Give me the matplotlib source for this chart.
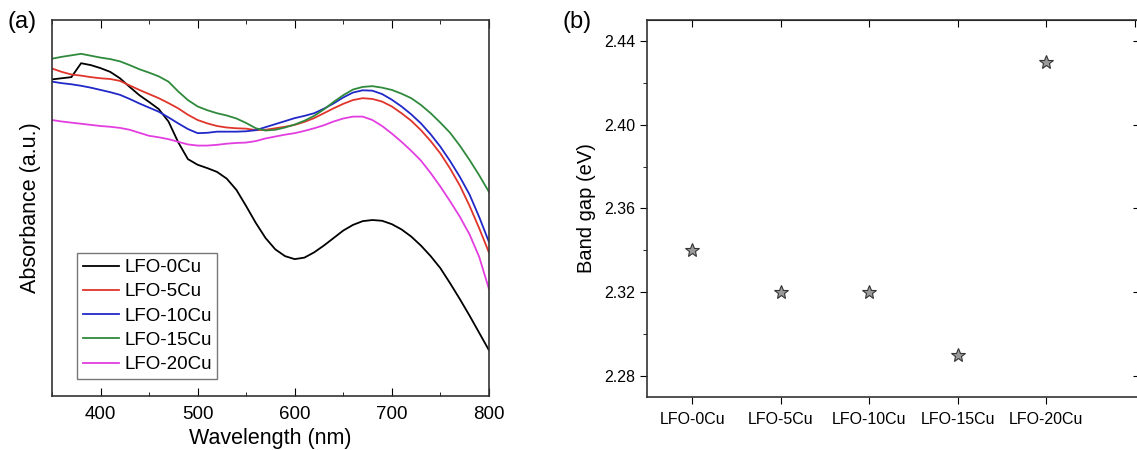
import matplotlib
matplotlib.use('Agg')
import matplotlib.pyplot as plt
from matplotlib.ticker import MultipleLocator, FormatStrFormatter

plt.rcParams['font.family'] = ['Liberation Sans', 'DejaVu Sans']

# (a) absorbance spectra, arbitrary units (every 10 nm)
wavelength = list(range(350, 801, 10))
abs_0 = [0.842, 0.845, 0.848, 0.885, 0.880, 0.872, 0.862, 0.845, 0.822, 0.800,
         0.782, 0.763, 0.730, 0.675, 0.630, 0.615, 0.606, 0.596, 0.578, 0.548,
         0.505, 0.460, 0.420, 0.390, 0.372, 0.364, 0.368, 0.382, 0.400, 0.420,
         0.440, 0.455, 0.465, 0.468, 0.466, 0.457, 0.443, 0.424, 0.400, 0.372,
         0.340, 0.300, 0.258, 0.214, 0.168, 0.122]
abs_5 = [0.871, 0.862, 0.855, 0.852, 0.848, 0.845, 0.843, 0.838, 0.826, 0.814,
         0.803, 0.792, 0.779, 0.765, 0.748, 0.734, 0.725, 0.718, 0.714, 0.712,
         0.711, 0.707, 0.708, 0.712, 0.716, 0.721, 0.729, 0.739, 0.752, 0.765,
         0.777, 0.787, 0.792, 0.790, 0.783, 0.770, 0.752, 0.732, 0.707, 0.678,
         0.645, 0.605, 0.560, 0.506, 0.446, 0.382]
abs_10 = [0.836, 0.832, 0.829, 0.825, 0.820, 0.814, 0.808, 0.801, 0.790, 0.778,
          0.767, 0.756, 0.741, 0.725, 0.710, 0.699, 0.700, 0.703, 0.703, 0.703,
          0.704, 0.707, 0.715, 0.723, 0.731, 0.739, 0.745, 0.752, 0.764, 0.778,
          0.794, 0.807, 0.813, 0.812, 0.803, 0.788, 0.770, 0.749, 0.725, 0.696,
          0.663, 0.625, 0.583, 0.536, 0.476, 0.410]
abs_15 = [0.897, 0.902, 0.906, 0.910, 0.905, 0.900, 0.896, 0.890, 0.880, 0.869,
          0.860, 0.850, 0.836, 0.810, 0.787, 0.770, 0.760, 0.752, 0.746, 0.738,
          0.726, 0.712, 0.706, 0.708, 0.714, 0.722, 0.732, 0.745, 0.762, 0.782,
          0.800, 0.815, 0.822, 0.824, 0.820, 0.814, 0.804, 0.792, 0.774, 0.752,
          0.727, 0.700, 0.666, 0.628, 0.587, 0.543]
abs_20 = [0.734, 0.730, 0.727, 0.724, 0.721, 0.718, 0.716, 0.713, 0.708, 0.700,
          0.692, 0.688, 0.683, 0.676, 0.669, 0.666, 0.666, 0.668, 0.671, 0.673,
          0.674, 0.678, 0.685, 0.690, 0.695, 0.699, 0.705, 0.712, 0.720, 0.730,
          0.738, 0.743, 0.743, 0.734, 0.718, 0.698, 0.676, 0.652, 0.626, 0.593,
          0.557, 0.518, 0.477, 0.430, 0.370, 0.285]

series = [
    ('LFO-0Cu', abs_0, 'black'),
    ('LFO-5Cu', abs_5, '#e0352b'),
    ('LFO-10Cu', abs_10, '#2128c8'),
    ('LFO-15Cu', abs_15, '#2f8a3c'),
    ('LFO-20Cu', abs_20, '#e23ee0'),
]

# (b) band gap
samples = ['LFO-0Cu', 'LFO-5Cu', 'LFO-10Cu', 'LFO-15Cu', 'LFO-20Cu']
band_gap = [2.34, 2.32, 2.32, 2.29, 2.43]

fig = plt.figure(figsize=(11.37, 4.5), dpi=100)

ax1 = fig.add_axes([0.0457, 0.12, 0.3843, 0.8356])
for name, y, c in series:
    ax1.plot(wavelength, y, color=c, lw=1.3, label=name)
ax1.set_xlim(350, 800)
ax1.set_ylim(0.0, 1.0)
ax1.set_yticks([])
ax1.xaxis.set_major_locator(MultipleLocator(100))
ax1.xaxis.set_minor_locator(MultipleLocator(50))
ax1.tick_params(axis='x', which='both', direction='in', top=True, labelsize=13.5, pad=7)
ax1.tick_params(axis='x', which='major', length=6)
ax1.tick_params(axis='x', which='minor', length=3)
ax1.set_xlabel('Wavelength (nm)', fontsize=15.5, labelpad=4)
ax1.set_ylabel('Absorbance (a.u.)', fontsize=15.5, labelpad=8)
leg = ax1.legend(loc='lower left', bbox_to_anchor=(0.058, 0.046), fontsize=13.5,
                 frameon=True, fancybox=False, edgecolor='#555555', handlelength=1.9,
                 handletextpad=0.3, borderpad=0.3, borderaxespad=0, labelspacing=0.38)
leg.get_frame().set_linewidth(1.0)
fig.text(0.007, 0.975, '(a)', fontsize=17, va='top', ha='left')

ax2 = fig.add_axes([0.569, 0.1178, 0.4345, 0.8378])
ax2.plot(range(len(samples)), band_gap, ls='none', marker='*', ms=10,
         mfc='#9a9a9a', mec='#333333', mew=0.8)
ax2.set_xlim(-0.51, 5.07)
ax2.set_ylim(2.27, 2.45)
ax2.set_xticks(range(len(samples)))
ax2.set_xticklabels(samples, fontsize=11.5)
ax2.yaxis.set_major_locator(MultipleLocator(0.04))
ax2.yaxis.set_minor_locator(MultipleLocator(0.02))
ax2.yaxis.set_major_formatter(FormatStrFormatter('%.2f'))
ax2.tick_params(axis='y', which='both', direction='out', labelsize=11.5)
ax2.tick_params(axis='y', which='major', length=5)
ax2.tick_params(axis='y', which='minor', length=3)
ax2.tick_params(axis='x', which='major', direction='out', length=5, pad=6)
top = ax2.secondary_xaxis('top')
top.tick_params(direction='in', length=5, labeltop=False)
right = ax2.secondary_yaxis('right')
right.set_yticks([2.28, 2.32, 2.36, 2.40, 2.44])
right.minorticks_off()
right.tick_params(direction='in', length=6, labelright=False)
ax2.set_ylabel('Band gap (eV)', fontsize=14.5, labelpad=6)
fig.text(0.495, 0.975, '(b)', fontsize=17, va='top', ha='left')

for ax in (ax1, ax2):
    for s in ax.spines.values():
        s.set_linewidth(1.2)
        s.set_color('#333333')

fig.savefig('out.png', dpi=100)
